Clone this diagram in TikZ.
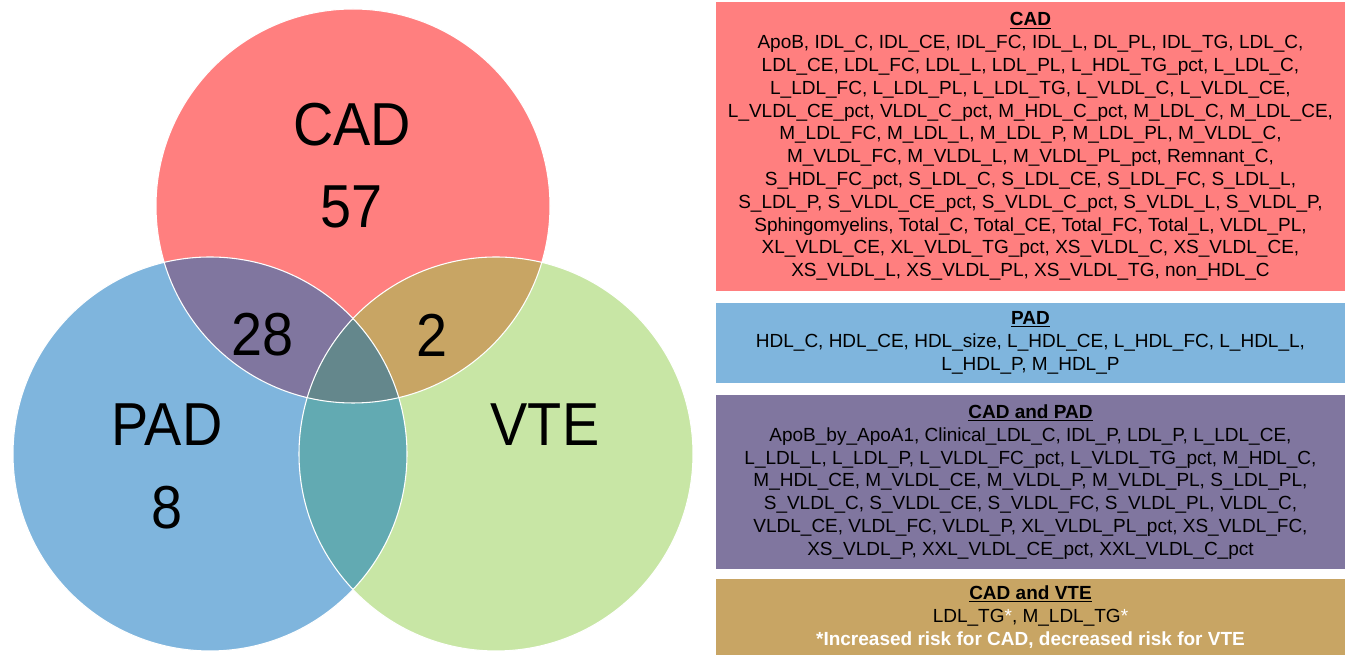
\documentclass[tikz,border=0pt]{standalone}
\usepackage{fontspec}
\setmainfont{Liberation Sans}
\newfontfamily\labelfont[FakeStretch=0.92]{Liberation Sans}
\usepackage{tikz}
\definecolor{cadred}{RGB}{255,127,127}
\definecolor{padblue}{RGB}{127,181,221}
\definecolor{vtegreen}{RGB}{200,230,165}
\definecolor{cadpad}{RGB}{128,118,159}
\definecolor{cadvte}{RGB}{200,165,100}
\definecolor{padvte}{RGB}{98,170,178}
\definecolor{allthree}{RGB}{100,135,140}
\tikzstyle{setlabel} = [inner sep=0pt, text centered, font=\labelfont\fontsize{45.5}{50}\selectfont]
\tikzstyle{listbox} = [inner sep=0pt, minimum width=471.75pt, align=center, font=\fontsize{14.25}{17.1}\selectfont]
\tikzstyle{ring} = [draw=white, line width=0.8pt]
\newcommand{\boxtitle}[1]{\underline{\textbf{#1}}}

\begin{document}
\begin{tikzpicture}[x=0.75pt,y=0.75pt]
\useasboundingbox (0,0) rectangle (1347,655);

\coordinate (cad) at (353,449);
\coordinate (pad) at (210,201);
\coordinate (vte) at (496,201);

% the three sets
\fill [cadred] (cad) circle (197);
\fill [padblue] (pad) circle (197);
\fill [vtegreen] (vte) circle (197);

% overlaps
\begin{scope}
\clip (cad) circle (197);
\fill [cadpad] (pad) circle (197);
\fill [cadvte] (vte) circle (197);
\end{scope}
\begin{scope}
\clip (pad) circle (197);
\fill [padvte] (vte) circle (197);
\clip (vte) circle (197);
\fill [allthree] (cad) circle (197);
\end{scope}

\draw [ring] (cad) circle (197);
\draw [ring] (pad) circle (197);
\draw [ring] (vte) circle (197);

\node (cadname) [setlabel] at (352,530) {CAD};
\node (cadnum) [setlabel] at (352,448) {57};
\node (cadpadnum) [setlabel] at (263,320) {28};
\node (cadvtenum) [setlabel] at (432,320) {2};
\node (padname) [setlabel] at (167,230) {PAD};
\node (padnum) [setlabel] at (167,147) {8};
\node (vtename) [setlabel] at (545,230) {VTE};

% lists of markers
\node (cadbox) [listbox, fill=cadred, minimum height=216.75pt] at (1030.5,508.5) {\boxtitle{CAD}\\
ApoB, IDL\_C, IDL\_CE, IDL\_FC, IDL\_L, DL\_PL, IDL\_TG, LDL\_C,\\
LDL\_CE, LDL\_FC, LDL\_L, LDL\_PL, L\_HDL\_TG\_pct, L\_LDL\_C,\\
L\_LDL\_FC, L\_LDL\_PL, L\_LDL\_TG, L\_VLDL\_C, L\_VLDL\_CE,\\
L\_VLDL\_CE\_pct, VLDL\_C\_pct, M\_HDL\_C\_pct, M\_LDL\_C, M\_LDL\_CE,\\
M\_LDL\_FC, M\_LDL\_L, M\_LDL\_P, M\_LDL\_PL, M\_VLDL\_C,\\
M\_VLDL\_FC, M\_VLDL\_L, M\_VLDL\_PL\_pct, Remnant\_C,\\
S\_HDL\_FC\_pct, S\_LDL\_C, S\_LDL\_CE, S\_LDL\_FC, S\_LDL\_L,\\
S\_LDL\_P, S\_VLDL\_CE\_pct, S\_VLDL\_C\_pct, S\_VLDL\_L, S\_VLDL\_P,\\
Sphingomyelins, Total\_C, Total\_CE, Total\_FC, Total\_L, VLDL\_PL,\\
XL\_VLDL\_CE, XL\_VLDL\_TG\_pct, XS\_VLDL\_C, XS\_VLDL\_CE,\\
XS\_VLDL\_L, XS\_VLDL\_PL, XS\_VLDL\_TG, non\_HDL\_C};

\node (padbox) [listbox, fill=padblue, minimum height=60pt] at (1030.5,312) {\boxtitle{PAD}\\
HDL\_C, HDL\_CE, HDL\_size, L\_HDL\_CE, L\_HDL\_FC, L\_HDL\_L,\\
L\_HDL\_P, M\_HDL\_P};

\node (cadpadbox) [listbox, fill=cadpad, minimum height=130.5pt] at (1030.5,173) {\boxtitle{CAD and PAD}\\
ApoB\_by\_ApoA1, Clinical\_LDL\_C, IDL\_P, LDL\_P, L\_LDL\_CE,\\
L\_LDL\_L, L\_LDL\_P, L\_VLDL\_FC\_pct, L\_VLDL\_TG\_pct, M\_HDL\_C,\\
M\_HDL\_CE, M\_VLDL\_CE, M\_VLDL\_P, M\_VLDL\_PL, S\_LDL\_PL,\\
S\_VLDL\_C, S\_VLDL\_CE, S\_VLDL\_FC, S\_VLDL\_PL, VLDL\_C,\\
VLDL\_CE, VLDL\_FC, VLDL\_P, XL\_VLDL\_PL\_pct, XS\_VLDL\_FC,\\
XS\_VLDL\_P, XXL\_VLDL\_CE\_pct, XXL\_VLDL\_C\_pct};

\node (cadvtebox) [listbox, fill=cadvte, minimum height=57pt] at (1030.5,38) {\boxtitle{CAD and VTE}\\
LDL\_TG\textcolor{white}{*}, M\_LDL\_TG\textcolor{white}{*}\\
\textcolor{white}{\textbf{*Increased risk for CAD, decreased risk for VTE}}};

\end{tikzpicture}
\end{document}
